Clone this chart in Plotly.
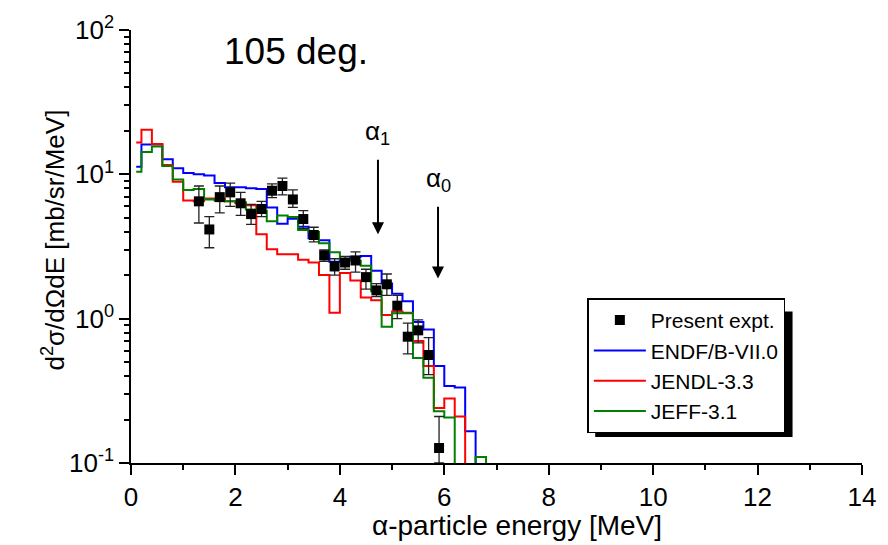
import math
import plotly.graph_objects as go

# ---------------------------------------------------------------------------
# Calculated double-differential alpha spectra at 105 deg (histograms)
# Lower bin edges in MeV; the last bin closes at BIN_END.
# ---------------------------------------------------------------------------
bin_lo = [0.1, 0.2, 0.4, 0.6, 0.8, 1.0, 1.2, 1.4, 1.6, 1.8, 2.0, 2.2, 2.4, 2.6,
          2.8, 3.0, 3.2, 3.4, 3.6, 3.8, 4.0, 4.2, 4.4, 4.6, 4.8, 5.0, 5.2, 5.4,
          5.6, 5.8, 6.0, 6.2, 6.4, 6.6]
BIN_END = 6.8

endf_b7 = [11.3, 16.1, 16.1, 12.7, 11.0, 10.2, 10.0, 9.8, 8.7, 8.15, 8.15, 8.0,
           7.9, 5.9, 4.55, 4.92, 4.34, 3.6, 3.5, 2.48, 2.56, 2.68, 2.72, 2.15,
           1.75, 1.49, 1.32, 0.95, 0.84, 0.47, 0.342, 0.333, 0.166, 0.0]

jendl33 = [16.6, 20.4, 16.2, 11.6, 8.9, 6.6, 6.5, 6.8, 6.8, 6.5, 6.3, 6.1,
           3.84, 3.03, 2.80, 2.80, 2.56, 2.45, 2.01, 1.10, 2.07, 1.84, 1.40, 1.34,
           1.06, 1.12, 1.10, 0.70, 0.47, 0.24, 0.28, 0.21, 0.0, 0.0]

jeff31 = [10.4, 14.3, 15.6, 11.4, 9.2, 7.8, 7.9, 6.7, 6.6, 6.5, 6.4, 5.7,
          5.6, 4.74, 5.18, 5.07, 4.11, 3.98, 3.33, 2.88, 2.56, 2.52, 2.33, 1.55,
          0.88, 1.09, 1.09, 0.534, 0.39, 0.228, 0.207, 0.0, 0.0, 0.11]

# ---------------------------------------------------------------------------
# Measured spectrum with error-bar limits
# ---------------------------------------------------------------------------
expt_e = [1.3, 1.5, 1.7, 1.9, 2.1, 2.3, 2.5, 2.7, 2.9, 3.1, 3.3, 3.5, 3.7, 3.9,
          4.1, 4.3, 4.5, 4.7, 4.9, 5.1, 5.3, 5.5, 5.7, 5.9]
expt_val = [6.5, 4.15, 6.95, 7.5, 6.3, 5.3, 5.75, 7.7, 8.3, 6.7, 4.9, 3.8, 2.75,
            2.3, 2.45, 2.53, 1.94, 1.57, 1.73, 1.23, 0.75, 0.83, 0.56, 0.127]
expt_hi = [8.3, 5.1, 8.3, 8.7, 7.5, 6.2, 6.5, 8.6, 9.4, 7.8, 5.6, 4.3, 3.0,
           2.6, 2.7, 2.9, 2.2, 1.75, 2.04, 1.45, 0.93, 0.98, 0.74, 0.21]
expt_lo = [4.6, 3.1, 5.4, 6.0, 5.2, 4.5, 5.1, 6.9, 7.2, 5.9, 4.2, 3.4, 2.5,
           2.0, 2.2, 2.1, 1.6, 1.42, 1.45, 1.0, 0.57, 0.68, 0.41, 0.10]

# Discrete alpha groups marked with arrows: (label, energy, arrow top, arrow tip, label y)
alpha_groups = [("α<sub>1</sub>", 4.73, 12.9, 3.85, 19.5),
                ("α<sub>0</sub>", 5.88, 6.1, 1.90, 9.2)]

FONT = "Liberation Sans, Arial, sans-serif"
FLOOR = 1e-3  # empty bins are sent below the axis so the step drops through it


def step_xy(values):
    xs = bin_lo + [BIN_END]
    ys = [v if v > 0 else FLOOR for v in values] + [FLOOR]
    return xs, ys


fig = go.Figure()

for name, vals, color in [("ENDF/B-VII.0", endf_b7, "#0000ff"),
                          ("JENDL-3.3", jendl33, "#ff0000"),
                          ("JEFF-3.1", jeff31, "#008000")]:
    xs, ys = step_xy(vals)
    fig.add_trace(go.Scatter(
        x=xs, y=ys, mode="lines", name=name,
        line=dict(color=color, width=2, shape="hv"),
    ))

fig.add_trace(go.Scatter(
    x=expt_e, y=expt_val, mode="markers", name="Present expt.",
    legendrank=1,
    marker=dict(symbol="square", size=10, color="black"),
    error_y=dict(type="data", symmetric=False,
                 array=[h - v for h, v in zip(expt_hi, expt_val)],
                 arrayminus=[v - l for l, v in zip(expt_lo, expt_val)],
                 color="#222222", thickness=1.3, width=5),
))

annotations = []
for label, e, top, tip, ly in alpha_groups:
    annotations.append(dict(
        x=e, y=math.log10(tip), ax=e, ay=math.log10(top),
        xref="x", yref="y", axref="x", ayref="y",
        text="", showarrow=True, arrowhead=2, arrowsize=1.2,
        arrowwidth=2, arrowcolor="black",
    ))
    annotations.append(dict(
        x=e, y=math.log10(ly), xref="x", yref="y", text=label,
        showarrow=False, font=dict(family=FONT, size=26, color="black"),
        xanchor="center", yanchor="middle",
    ))

annotations.append(dict(
    x=3.16, y=math.log10(71), xref="x", yref="y", text="105 deg.",
    showarrow=False, font=dict(family=FONT, size=37, color="black"),
    xanchor="center", yanchor="middle",
))
annotations.append(dict(
    x=0.528, y=-0.144, xref="paper", yref="paper",
    text="α-particle energy [MeV]", showarrow=False,
    font=dict(family=FONT, size=28, color="black"),
    xanchor="center", yanchor="middle",
))
annotations.append(dict(
    x=-0.106, y=0.515, xref="paper", yref="paper", textangle=-90,
    text="d<sup>2</sup>σ/dΩdE [mb/sr/MeV]", showarrow=False,
    font=dict(family=FONT, size=26, color="black"),
    xanchor="center", yanchor="middle",
))

minor_y = [k * 10.0 ** p for p in (-1, 0, 1) for k in range(2, 10)]

fig.update_layout(
    width=888, height=545,
    margin=dict(l=131, r=25, t=25, b=82),
    paper_bgcolor="white", plot_bgcolor="white",
    font=dict(family=FONT, size=26, color="black"),
    showlegend=True,
    legend=dict(
        x=0.6243, y=0.380, xanchor="left", yanchor="top",
        bgcolor="white", bordercolor="black", borderwidth=1.5,
        font=dict(family=FONT, size=21, color="black"),
        itemwidth=52, traceorder="normal",
    ),
    annotations=annotations,
    # drop shadow behind the legend box
    shapes=[dict(type="rect", xref="paper", yref="paper", layer="below",
                 x0=0.635, x1=0.905, y0=0.060, y1=0.350,
                 fillcolor="black", line=dict(width=0))],
)

fig.update_xaxes(
    range=[0, 14], tickvals=[0, 2, 4, 6, 8, 10, 12, 14],
    showline=True, linecolor="black", linewidth=1.5,
    ticks="outside", ticklen=10, tickwidth=1.5, tickcolor="black",
    minor=dict(ticks="outside", dtick=1, ticklen=5, tickwidth=1.5, tickcolor="black"),
    showgrid=False, zeroline=False, mirror=False,
    tickfont=dict(family=FONT, size=26, color="black"),
)
fig.update_yaxes(
    type="log", range=[-1, 2],
    tickvals=[0.1, 1, 10, 100],
    ticktext=["10<sup>-1</sup>", "10<sup>0</sup>", "10<sup>1</sup>", "10<sup>2</sup>"],
    showline=True, linecolor="black", linewidth=1.5,
    ticks="outside", ticklen=10, tickwidth=1.5, tickcolor="black",
    minor=dict(ticks="outside", tickvals=minor_y, ticklen=5, tickwidth=1.5,
               tickcolor="black", showgrid=False),
    showgrid=False, zeroline=False, mirror=False,
    tickfont=dict(family=FONT, size=26, color="black"),
)

fig.write_html("out.html")
